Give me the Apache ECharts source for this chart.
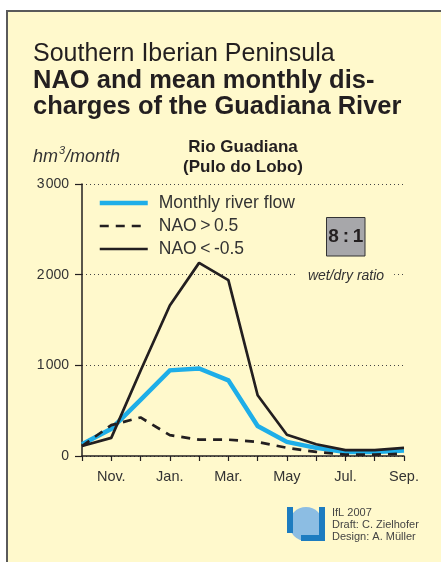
<!DOCTYPE html>
<html>
<head>
<meta charset="utf-8">
<script src="https://cdn.jsdelivr.net/npm/echarts@6/dist/echarts.min.js"></script>
<style>
html,body{margin:0;padding:0;background:#fff;width:441px;height:562px;overflow:hidden;position:relative;}
#bg{position:absolute;left:6px;top:10px;width:500px;height:600px;background:#fff9cc;border-left:2px solid #5a5a5a;border-top:2px solid #5a5a5a;}
#chart{position:absolute;left:0;top:0;width:441px;height:562px;}
</style>
</head>
<body>
<div id="bg"></div>
<div id="chart"></div>
<script>
// ---- data ----
const months = ['Oct.','Nov.','Dec.','Jan.','Feb.','Mar.','Apr.','May','Jun.','Jul.','Aug.','Sep.'];
const monthlyFlow = [130, 300, 620, 945, 965, 835, 330, 155, 90, 45, 45, 60];
const naoPositive = [110, 340, 425, 230, 180, 180, 155, 90, 45, 15, 15, 25];
const naoNegative = [110, 200, 940, 1660, 2130, 1940, 670, 235, 130, 65, 65, 90];
const seriesNames = ['Monthly river flow', 'NAO\u2009>\u20090.5', 'NAO\u2009<\u2009-0.5'];
const yTicks = [0, 1000, 2000, 3000];
const ratioText = '8:1';

const FONT = "'Liberation Sans', Arial, Helvetica, sans-serif";
const BLUE = '#1eaee8';
const DARK = '#231f20';
const BG = '#fff9cc';

const chart = echarts.init(document.getElementById('chart'), null, {renderer: 'canvas'});

function yLabel(v) {
  if (v === 0) return '0';
  return String(v / 1000) + '\u200a000';
}

const option = {
  backgroundColor: 'transparent',
  animation: false,
  grid: {left: 82, right: 37, top: 184, bottom: 106},
  legend: {
    orient: 'vertical',
    left: 97.5,
    top: 194,
    padding: 0,
    itemWidth: 48,
    itemHeight: 14,
    itemGap: 5,
    selectedMode: false,
    itemStyle: {opacity: 0},
    textStyle: {fontSize: 17.5, color: '#333', fontFamily: FONT, padding: [0, 0, 0, 6]},
    data: [
      {name: seriesNames[0], lineStyle: {width: 4.5}},
      {name: seriesNames[1], lineStyle: {width: 2.7}},
      {name: seriesNames[2], lineStyle: {width: 2.7}}
    ]
  },
  xAxis: {
    type: 'category',
    data: months,
    boundaryGap: false,
    axisLine: {show: true, lineStyle: {color: DARK, width: 1.5}},
    axisTick: {show: true, interval: 0, length: 5, lineStyle: {color: DARK, width: 1.2}},
    axisLabel: {
      interval: function (i) { return i % 2 === 1; },
      margin: 13,
      fontSize: 14.5,
      color: '#333',
      fontFamily: FONT
    },
    splitLine: {show: false}
  },
  yAxis: {
    type: 'value',
    min: yTicks[0],
    max: yTicks[yTicks.length - 1],
    interval: 1000,
    axisLine: {show: true, lineStyle: {color: DARK, width: 1.5}},
    axisTick: {show: true, length: 7, lineStyle: {color: DARK, width: 1.2}},
    axisLabel: {formatter: yLabel, margin: 13, fontSize: 14, color: '#333', fontFamily: FONT},
    splitLine: {show: true, lineStyle: {type: [1, 3], color: '#444', width: 1}}
  },
  series: [
    {
      name: seriesNames[0], type: 'line', data: monthlyFlow, symbol: 'none',
      lineStyle: {color: BLUE, width: 4.5, join: 'miter'}, itemStyle: {color: BLUE}, z: 3
    },
    {
      name: seriesNames[1], type: 'line', data: naoPositive, symbol: 'none',
      lineStyle: {color: DARK, width: 2.7, type: [9, 7]}, itemStyle: {color: DARK}, z: 4
    },
    {
      name: seriesNames[2], type: 'line', data: naoNegative, symbol: 'none',
      lineStyle: {color: DARK, width: 2.7}, itemStyle: {color: DARK}, z: 5
    }
  ],
  graphic: [
    {type: 'text', left: 33, top: 42, style: {text: 'Southern Iberian Peninsula', font: 'normal 25px ' + FONT, fill: DARK}},
    {type: 'text', left: 33, top: 68, style: {text: 'NAO and mean monthly dis-', font: 'bold 25.5px ' + FONT, fill: DARK}},
    {type: 'text', left: 33, top: 94, style: {text: 'charges of the Guadiana River', font: 'bold 25.5px ' + FONT, fill: DARK}},
    {type: 'text', left: 33, top: 148, style: {text: 'hm', font: 'italic 18px ' + FONT, fill: '#333'}},
    {type: 'text', left: 59, top: 145, style: {text: '3', font: 'italic 11px ' + FONT, fill: '#333'}},
    {type: 'text', left: 65, top: 148, style: {text: '/month', font: 'italic 18px ' + FONT, fill: '#333'}},
    {type: 'text', x: 243, y: 137, style: {text: 'Rio Guadiana\n(Pulo do Lobo)', font: 'bold 17px ' + FONT, fill: DARK, align: 'center', lineHeight: 20}},
    {type: 'rect', shape: {x: 326.5, y: 217.5, width: 38.5, height: 38.5}, style: {fill: '#a7a7aa', stroke: '#333', lineWidth: 1}, z: 10},
    {type: 'text', x: 345.8, y: 237, style: {text: ratioText.split('').join('\u2009'), font: 'bold 19px ' + FONT, fill: DARK, align: 'center', verticalAlign: 'middle'}, z: 11},
    {type: 'text', x: 346, y: 276, style: {text: 'wet/dry ratio', font: 'italic 14px ' + FONT, fill: '#333', align: 'center', verticalAlign: 'middle', backgroundColor: BG, padding: [2, 10, 2, 10]}, z: 10},
    // logo
    {type: 'group', left: 287, top: 507, z: 10, children: [
      {type: 'circle', shape: {cx: 19, cy: 17, r: 17}, style: {fill: '#8cbde3'}},
      {type: 'rect', shape: {x: 0, y: 0, width: 6, height: 26}, style: {fill: '#1d7cc0'}},
      {type: 'rect', shape: {x: 32, y: 0, width: 6, height: 34}, style: {fill: '#1d7cc0'}},
      {type: 'rect', shape: {x: 14, y: 28, width: 24, height: 6}, style: {fill: '#1d7cc0'}}
    ]},
    {type: 'text', left: 332, top: 507, style: {text: 'IfL 2007\nDraft: C. Zielhofer\nDesign: A. Müller', font: 'normal 11px ' + FONT, fill: '#444', lineHeight: 12}}
  ]
};

chart.setOption(option);
</script>
</body>
</html>
